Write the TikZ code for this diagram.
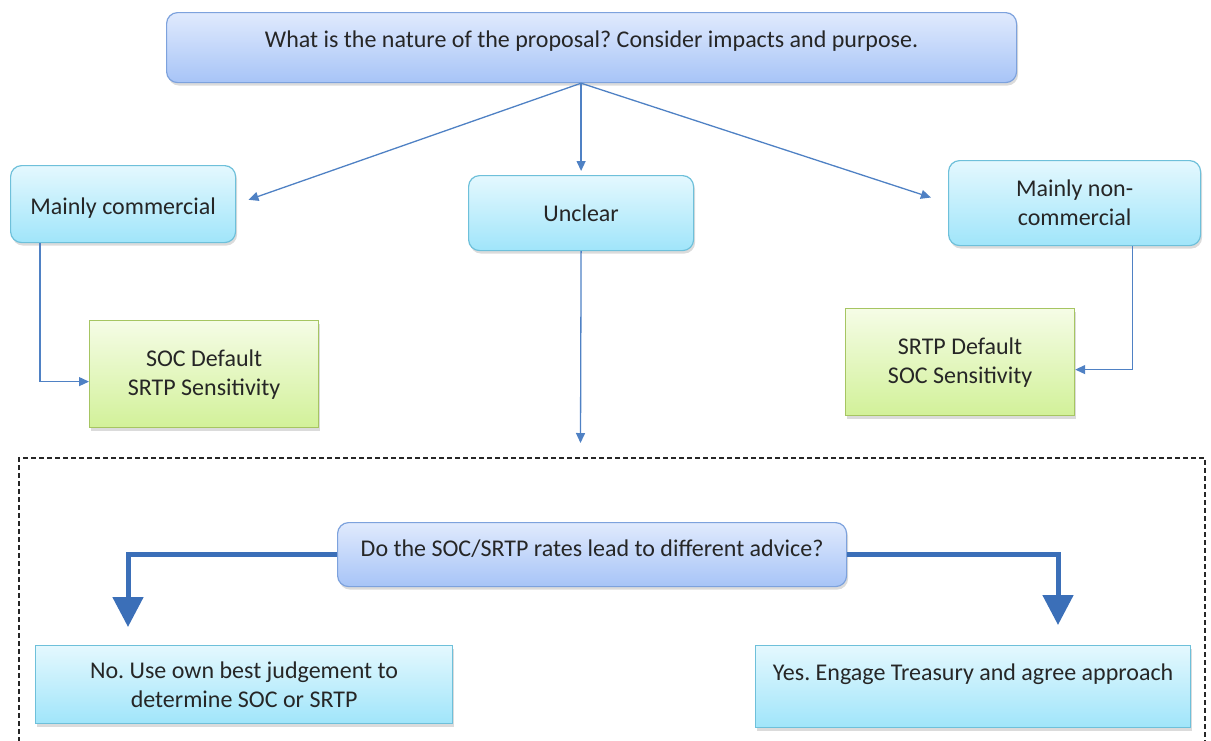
\documentclass[tikz,border=0pt]{standalone}
\usepackage{fontspec}
\setmainfont{Carlito}
\frenchspacing
\usetikzlibrary{arrows.meta,shadows,calc}
\definecolor{txt}{HTML}{262626}
\definecolor{blueTop}{HTML}{E0EAFD}
\definecolor{blueBot}{HTML}{A7C4F7}
\definecolor{blueLine}{HTML}{7DA2DD}
\definecolor{cyanTop}{HTML}{E4F8FE}
\definecolor{cyanBot}{HTML}{A0E5FA}
\definecolor{cyanLine}{HTML}{6EC0DA}
\definecolor{greenTop}{HTML}{F5FCE6}
\definecolor{greenBot}{HTML}{D2F199}
\definecolor{greenLine}{HTML}{A6C562}
\definecolor{thinArrow}{HTML}{4F81C4}
\definecolor{thickArrow}{HTML}{3B6FB8}
\tikzset{
  basebox/.style={anchor=north west, inner sep=2pt, align=center, text=txt,
    font=\fontsize{24}{29}\selectfont, line width=1.2pt,
    drop shadow={shadow xshift=1.5pt, shadow yshift=-3pt, fill=black!40, opacity=0.35}},
  bluebox/.style={basebox, rounded corners=11pt, draw=blueLine, top color=blueTop, bottom color=blueBot},
  cyanbox/.style={basebox, rounded corners=11pt, draw=cyanLine, top color=cyanTop, bottom color=cyanBot},
  greenbox/.style={basebox, draw=greenLine, top color=greenTop, bottom color=greenBot},
  flatcyan/.style={basebox, draw=cyanLine, top color=cyanTop, bottom color=cyanBot},
  thinarrow/.style={draw=thinArrow, line width=1.3pt, -{Triangle[length=10pt,width=9pt]}},
  thickarrow/.style={draw=thickArrow, line width=5pt, -{Triangle[length=30pt,width=30pt]}},
  dashbox/.style={draw=black!85, line width=1.1pt, dash pattern=on 5pt off 3pt}
}
\begin{document}
\begin{tikzpicture}[x=1pt,y=-1pt]
\useasboundingbox (0,0) rectangle (1211,740);

\node[bluebox, minimum width=850pt, minimum height=70pt] (top) at (166,12)
  {\raisebox{7pt}[\height][\depth]{What is the nature of the proposal? Consider impacts and purpose.}};

\node[cyanbox, minimum width=225pt, minimum height=77pt] (comm) at (10,165) {\raisebox{-4pt}[\height][\depth]{Mainly commercial}};
\node[cyanbox, minimum width=225pt, minimum height=75pt] (unc) at (468,175) {Unclear};
\node[cyanbox, minimum width=252pt, minimum height=85pt] (noncomm) at (948,160) {Mainly non-\\commercial};

\node[greenbox, minimum width=229pt, minimum height=107pt] (soc) at (89,320) {SOC Default\\SRTP Sensitivity};
\node[greenbox, minimum width=229pt, minimum height=107pt] (srtp) at (845,308) {SRTP Default\\SOC Sensitivity};

\draw[dashbox] (19,742) |- (1205,458) -- (1205,742);

\node[bluebox, minimum width=509pt, minimum height=64pt] (q) at (337,522)
  {\raisebox{6pt}[\height][\depth]{Do the SOC/SRTP rates lead to different advice?}};

\node[flatcyan, minimum width=417pt, minimum height=78pt] (no) at (35,645)
  {No. Use own best judgement to\\determine SOC or SRTP};
\node[flatcyan, minimum width=435pt, minimum height=82pt] (yes) at (755,645)
  {Yes. Engage Treasury and agree approach\\~};

\coordinate (uend) at (580.5,443);
\coordinate (nx) at (128,0);
\coordinate (yx) at (1058,0);

\draw[thinarrow, shorten >=13pt] (top.south -| unc.north) -- (comm.east);
\draw[thinarrow, shorten >=4pt] (top.south -| unc.north) -- (unc.north);
\draw[thinarrow, shorten >=18pt] (top.south -| unc.north) -- (noncomm.west);

\draw[thinarrow] ([xshift=30pt]comm.south west) |- ([yshift=-7.5pt]soc.west);
\draw[thinarrow] ([xshift=-69pt]noncomm.south east) |- ([yshift=-7.5pt]srtp.east);
\draw[thinarrow] (unc.south) -- (uend);

\draw[thickarrow, shorten >=18pt] (q.west) -| (no.north -| nx);
\draw[thickarrow, shorten >=20pt] (q.east) -| (yes.north -| yx);
\end{tikzpicture}
\end{document}
